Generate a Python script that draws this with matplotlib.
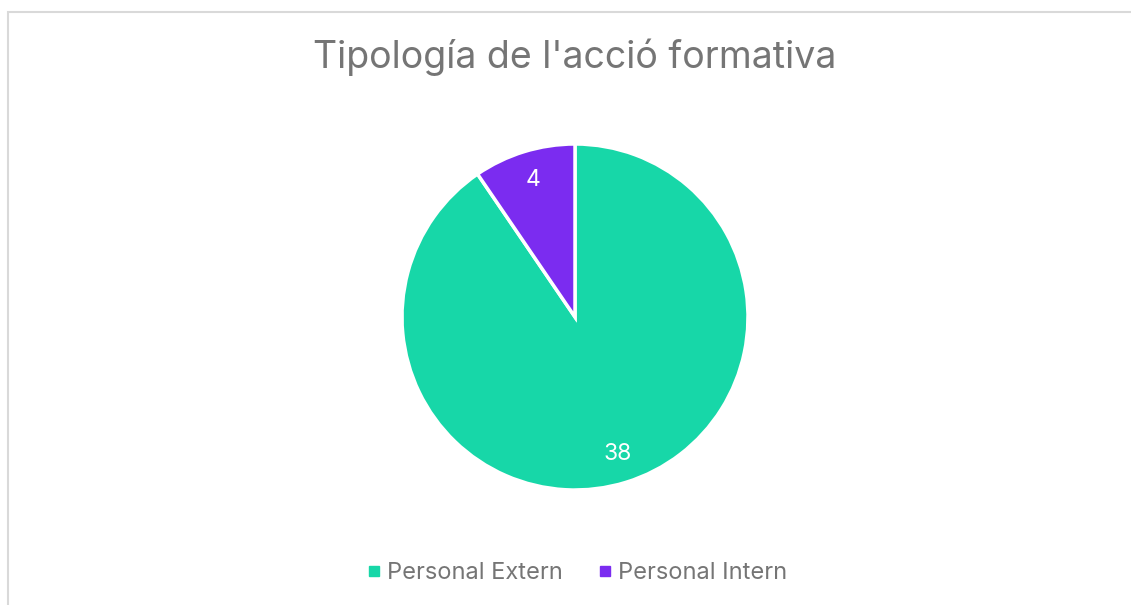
import matplotlib
matplotlib.use("Agg")
import matplotlib.pyplot as plt
from matplotlib.patches import Rectangle
from matplotlib.lines import Line2D

categories = ["Personal Extern", "Personal Intern"]
values = [38, 4]
colors = ["#17D7A8", "#7B2CF0"]
title = "Tipología de l'acció formativa"

W, H = 1131, 605
fig = plt.figure(figsize=(W / 100, H / 100), dpi=100)
fig.patch.set_facecolor("white")

# outer border
fig.add_artist(Rectangle((8 / W, -0.1), 1.2, (H - 12) / H + 0.1, transform=fig.transFigure,
                         fill=False, edgecolor="#d9d9d9", linewidth=1.5))

cx, cy, r = 575, 317, 173
ax = fig.add_axes([(cx - r) / W, (H - cy - r) / H, 2 * r / W, 2 * r / H])
wedges, texts = ax.pie(values, colors=colors, startangle=90, counterclock=False,
                       labels=[str(v) for v in values], labeldistance=0.83,
                       wedgeprops=dict(edgecolor="white", linewidth=2.5),
                       textprops=dict(color="white", fontsize=16.5, family="Inter"))
for t in texts:
    t.set_ha("center")
    t.set_va("center")
ax.set_aspect("equal")
ax.set_xlim(-1, 1)
ax.set_ylim(-1, 1)

fig.text(cx / W, 1 - 57 / H, title, ha="center", va="center", fontsize=27,
         color="#757575", family="Inter")

handles = [Line2D([], [], marker="s", linestyle="none", markersize=7,
                  markerfacecolor=c, markeredgecolor=c) for c in colors]
fig.legend(handles, categories, loc="center", bbox_to_anchor=(577 / W, 1 - 573 / H),
           ncol=2, frameon=False, labelcolor="#757575",
           prop=dict(family="Inter", size=17), handletextpad=0.25, columnspacing=1.5,
           handlelength=0.6)

fig.savefig("out.png", dpi=100, facecolor="white")
